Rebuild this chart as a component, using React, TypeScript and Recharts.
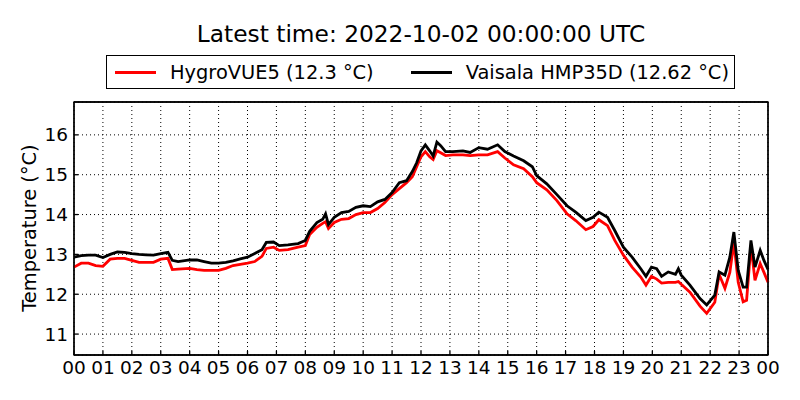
import React from "react";
import { LineChart, Line, XAxis, YAxis, CartesianGrid, ReferenceArea } from "recharts";

// hours since 00 UTC
const hours = [
  0, 0.25, 0.5, 0.75, 1, 1.25, 1.5, 1.75, 2, 2.25, 2.5, 2.75, 3, 3.25, 3.4, 3.6, 4, 4.25, 4.5, 4.75,
  5, 5.25, 5.5, 5.75, 6, 6.25, 6.5, 6.65, 6.9, 7.1, 7.4, 7.75, 8, 8.15, 8.4, 8.6, 8.7, 8.8, 9, 9.25,
  9.5, 9.75, 10, 10.25, 10.5, 10.75, 11, 11.25, 11.5, 11.7, 11.85, 12, 12.15, 12.3, 12.42, 12.55, 12.68, 12.85, 13.1, 13.45,
  13.7, 14, 14.3, 14.65, 14.9, 15.2, 15.55, 15.85, 16, 16.35, 16.7, 17.05, 17.35, 17.7, 17.95, 18.15, 18.45, 18.7, 19, 19.3,
  19.6, 19.78, 19.97, 20.15, 20.32, 20.55, 20.8, 20.9, 21, 21.3, 21.65, 21.88, 22.16, 22.31, 22.51, 22.68, 22.82, 22.97, 23.14, 23.26,
  23.41, 23.55, 23.73, 23.86, 24,
];

const vaisala = [
  12.93, 12.97, 12.98, 12.98, 12.92, 13.0, 13.06, 13.05, 13.02, 13.0, 12.99, 12.98, 13.02, 13.05, 12.85, 12.82, 12.86, 12.86, 12.82, 12.78,
  12.78, 12.8, 12.84, 12.89, 12.93, 13.02, 13.12, 13.3, 13.31, 13.22, 13.24, 13.27, 13.35, 13.58, 13.8, 13.88, 14.02, 13.75, 13.93, 14.05,
  14.08, 14.18, 14.22, 14.2, 14.32, 14.38, 14.55, 14.8, 14.85, 15.08, 15.3, 15.6, 15.75, 15.6, 15.47, 15.82, 15.73, 15.58, 15.58, 15.6,
  15.56, 15.68, 15.64, 15.75, 15.58, 15.47, 15.35, 15.2, 14.98, 14.77, 14.5, 14.22, 14.06, 13.85, 13.93, 14.06, 13.93, 13.6, 13.18, 12.93,
  12.64, 12.45, 12.68, 12.64, 12.45, 12.56, 12.5, 12.64, 12.48, 12.23, 11.89, 11.73, 11.98, 12.56, 12.48, 12.93, 13.56, 12.6, 12.18, 12.18,
  13.35, 12.68, 13.1, 12.85, 12.62,
];

const hygrovue = [
  12.68, 12.78, 12.78, 12.72, 12.7, 12.88, 12.9, 12.9, 12.85, 12.8, 12.8, 12.8, 12.88, 12.9, 12.62, 12.63, 12.65, 12.62, 12.6, 12.6,
  12.6, 12.65, 12.72, 12.75, 12.78, 12.82, 12.95, 13.15, 13.18, 13.1, 13.12, 13.18, 13.22, 13.5, 13.68, 13.78, 13.82, 13.65, 13.8, 13.88,
  13.9, 14.0, 14.05, 14.05, 14.15, 14.3, 14.5, 14.65, 14.8, 14.95, 15.2, 15.45, 15.58, 15.45, 15.38, 15.6, 15.55, 15.48, 15.5, 15.5,
  15.48, 15.5, 15.5, 15.58, 15.42, 15.25, 15.15, 14.95, 14.8, 14.62, 14.35, 14.02, 13.85, 13.62, 13.7, 13.87, 13.72, 13.35, 12.98, 12.68,
  12.43, 12.23, 12.45, 12.38, 12.28, 12.3, 12.3, 12.32, 12.25, 12.05, 11.7, 11.52, 11.8, 12.5, 12.15, 12.55, 13.3, 12.3, 11.81, 11.85,
  13.22, 12.35, 12.77, 12.55, 12.3,
];

const xTicks = [0, 1, 2, 3, 4, 5, 6, 7, 8, 9, 10, 11, 12, 13, 14, 15, 16, 17, 18, 19, 20, 21, 22, 23, 24];
const yTicks = [11, 12, 13, 14, 15, 16];

const data = hours.map((t, i) => ({ t, vaisala: vaisala[i], hygro: hygrovue[i] }));

const font = "'DejaVu Sans', sans-serif";
const yMin = 10.475;
const yMax = 16.825;

export default function App() {
  const tickStyle = { fill: "#000", fontSize: 18.5, fontFamily: font };
  const frame = { stroke: "#000", strokeWidth: 1.3 };
  return (
    <div style={{ position: "relative", width: 800, height: 400, background: "#fff", fontFamily: font }}>
      <style>{"body{margin:0}"}</style>
      <div
        style={{ position: "absolute", left: 0, top: 22, width: 842, textAlign: "center", fontSize: 23.3, lineHeight: 1, color: "#000" }}
      >
        Latest time: 2022-10-02 00:00:00 UTC
      </div>
      <div
        style={{
          position: "absolute", left: 106, top: 55, width: 627, height: 32, border: "1px solid #000",
          display: "flex", alignItems: "center", fontSize: 19.4, color: "#000", whiteSpace: "nowrap",
        }}
      >
        <div style={{ width: 41, height: 3, background: "#f00", marginLeft: 8 }} />
        <span style={{ marginLeft: 14 }}>HygroVUE5 (12.3 °C)</span>
        <div style={{ width: 41, height: 3, background: "#000", marginLeft: 37 }} />
        <span style={{ marginLeft: 14 }}>Vaisala HMP35D (12.62 °C)</span>
      </div>
      <div
        style={{
          position: "absolute", left: 30, top: 228, transform: "translate(-50%,-50%) rotate(-90deg)",
          fontSize: 19.4, lineHeight: 1, whiteSpace: "nowrap", color: "#000",
        }}
      >
        Temperature (°C)
      </div>
      <LineChart width={800} height={400} data={data} margin={{ top: 101, right: 31, bottom: 0, left: 24 }}>
        <CartesianGrid stroke="#000" strokeWidth={1} strokeDasharray="1 3" />
        <XAxis
          dataKey="t"
          type="number"
          domain={[0, 24]}
          ticks={xTicks}
          interval={0}
          height={45}
          tickSize={-4}
          tickMargin={10}
          axisLine={frame}
          tickLine={frame}
          tick={tickStyle}
          tickFormatter={(h: number) => String(h % 24).padStart(2, "0")}
        />
        <XAxis
          xAxisId="top"
          orientation="top"
          dataKey="t"
          type="number"
          domain={[0, 24]}
          allowDataOverflow
          ticks={xTicks}
          interval={0}
          height={1}
          tickSize={-4}
          axisLine={frame}
          tickLine={frame}
          tick={false}
        />
        <YAxis
          type="number"
          domain={[yMin, yMax]}
          ticks={yTicks}
          allowDataOverflow
          width={50}
          tickSize={-4}
          tickMargin={10}
          axisLine={frame}
          tickLine={frame}
          tick={tickStyle}
        />
        <YAxis
          yAxisId="right"
          orientation="right"
          type="number"
          domain={[yMin, yMax]}
          ticks={yTicks}
          allowDataOverflow
          width={1}
          tickSize={-4}
          axisLine={frame}
          tickLine={frame}
          tick={false}
        />
        <Line dataKey="hygro" stroke="#f00" strokeWidth={2.8} dot={false} isAnimationActive={false} />
        <Line dataKey="vaisala" stroke="#000" strokeWidth={2.8} dot={false} isAnimationActive={false} />
        <ReferenceArea x1={0} x2={24} y1={yMin} y2={yMax} fill="none" stroke="#000" strokeWidth={1.3} />
      </LineChart>
    </div>
  );
}
